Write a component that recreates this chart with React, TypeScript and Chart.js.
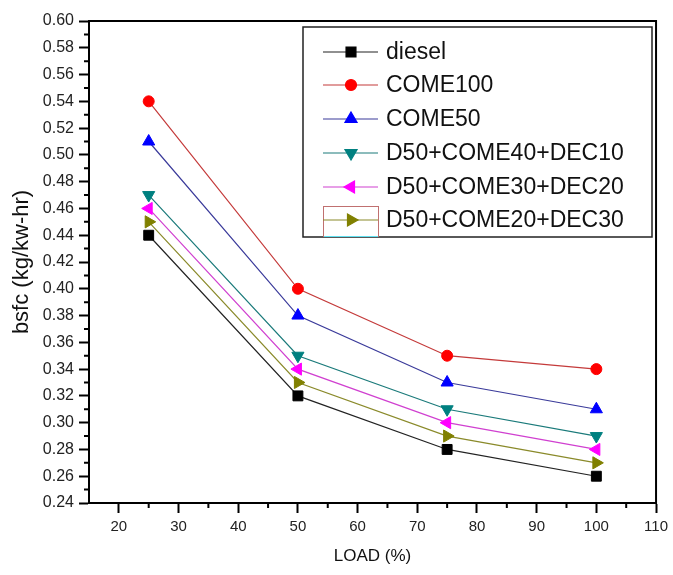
import React, { useEffect, useRef } from "react";
import { Chart, registerables } from "chart.js";
import { drawPoint } from "chart.js/helpers";

Chart.register(...registerables);

const loads = [25, 50, 75, 100];
const seriesNames = [
  "diesel",
  "COME100",
  "COME50",
  "D50+COME40+DEC10",
  "D50+COME30+DEC20",
  "D50+COME20+DEC30",
];
const diesel = [0.44, 0.32, 0.28, 0.26];
const come100 = [0.54, 0.4, 0.35, 0.34];
const come50 = [0.51, 0.38, 0.33, 0.31];
const blend10 = [0.47, 0.35, 0.31, 0.29];
const blend20 = [0.46, 0.34, 0.3, 0.28];
const blend30 = [0.45, 0.33, 0.29, 0.27];
const seriesValues = [diesel, come100, come50, blend10, blend20, blend30];

const colors = ["#000000", "#ff0000", "#0000ff", "#008080", "#ff00ff", "#808000"];
const lineColors = ["#222222", "#c43a3a", "#3a3a9a", "#1a7a7a", "#d040d0", "#8a8a2a"];
const pointStyles = ["rect", "circle", "triangle", "triangle", "triangle", "triangle"];
const rotations = [0, 0, 0, 180, 270, 90];
const radii = [7, 5.5, 7, 7, 7, 7];

const minorX = [25, 35, 45, 55, 65, 75, 85, 95, 105];
const minorY = [0.25, 0.27, 0.29, 0.31, 0.33, 0.35, 0.37, 0.39, 0.41, 0.43, 0.45, 0.47, 0.49, 0.51, 0.53, 0.55, 0.57, 0.59];

const framePlugin = {
  id: "frameAndLegend",
  afterDraw(chart: any) {
    const ctx = chart.ctx;
    const { left, right, top, bottom } = chart.chartArea;
    const xs = chart.scales.x;
    const ys = chart.scales.y;
    ctx.save();
    // minor ticks
    ctx.strokeStyle = "#000";
    ctx.lineWidth = 2;
    ctx.beginPath();
    minorX.forEach((v) => {
      const px = xs.getPixelForValue(v);
      ctx.moveTo(px, bottom);
      ctx.lineTo(px, bottom + 5);
    });
    minorY.forEach((v) => {
      const py = ys.getPixelForValue(v);
      ctx.moveTo(left, py);
      ctx.lineTo(left - 5, py);
    });
    ctx.stroke();
    // frame
    ctx.lineWidth = 2;
    ctx.strokeRect(left, top, right - left, bottom - top);

    // legend
    const bx = 303, by = 27, bw = 349, bh = 210;
    ctx.fillStyle = "#fff";
    ctx.fillRect(bx, by, bw, bh);
    ctx.lineWidth = 1.5;
    ctx.strokeStyle = "#222";
    ctx.strokeRect(bx, by, bw, bh);
    const rowY = [52, 85, 119, 153, 187, 220];
    chart.data.datasets.forEach((ds: any, i: number) => {
      const y = rowY[i];
      if (i === 5) {
        ctx.lineWidth = 1;
        ctx.strokeStyle = "#c07070";
        ctx.strokeRect(323.5, 206.5, 55, 30);
        ctx.strokeStyle = "#60e0f0";
        ctx.beginPath();
        ctx.moveTo(324, 236.5);
        ctx.lineTo(378, 236.5);
        ctx.stroke();
      }
      ctx.strokeStyle = ds.borderColor;
      ctx.lineWidth = 1.2;
      ctx.beginPath();
      ctx.moveTo(323, y);
      ctx.lineTo(378, y);
      ctx.stroke();
      ctx.fillStyle = ds.pointBackgroundColor;
      ctx.strokeStyle = ds.pointBackgroundColor;
      drawPoint(ctx, {
        pointStyle: ds.pointStyle,
        radius: ds.pointRadius,
        rotation: ds.rotation,
        borderWidth: 1,
      }, 351, y);
      ctx.fillStyle = "#111";
      ctx.font = "23px 'Liberation Sans', Arial, sans-serif";
      ctx.textAlign = "left";
      ctx.textBaseline = "middle";
      ctx.fillText(ds.label, 386, y + 1);
    });
    ctx.restore();
  },
};

export default function App() {
  const ref = useRef<HTMLCanvasElement>(null);
  useEffect(() => {
    if (!ref.current) return;
    const chart = new Chart(ref.current, {
      type: "line",
      data: {
        datasets: seriesNames.map((name, i) => ({
          label: name,
          data: loads.map((x, j) => ({ x, y: seriesValues[i][j] })),
          borderColor: lineColors[i],
          borderWidth: 1.2,
          backgroundColor: colors[i],
          pointBackgroundColor: colors[i],
          pointBorderColor: colors[i],
          pointBorderWidth: 1,
          pointStyle: pointStyles[i],
          rotation: rotations[i],
          pointRadius: radii[i],
          fill: false,
          tension: 0,
        })),
      },
      options: {
        responsive: false,
        animation: false,
        layout: { padding: { left: 0, top: 21, right: 13, bottom: 0 } },
        plugins: { legend: { display: false }, tooltip: { enabled: false } },
        scales: {
          x: {
            type: "linear",
            min: 15,
            max: 110,
            afterFit: (s: any) => { s.height = 72; },
            ticks: {
              stepSize: 10,
              includeBounds: false,
              padding: 5,
              color: "#222",
              font: { family: "'Liberation Sans', Arial, sans-serif", size: 15 },
              maxRotation: 0,
            },
            grid: {
              display: true,
              drawOnChartArea: false,
              drawTicks: true,
              tickLength: 10,
              tickWidth: 2,
              tickColor: "#000",
            },
            border: { display: true, color: "#000", width: 2 },
            title: {
              display: true,
              text: "LOAD (%)",
              color: "#111",
              font: { family: "'Liberation Sans', Arial, sans-serif", size: 17 },
              padding: { top: 0, bottom: 8 },
            },
          },
          y: {
            type: "linear",
            min: 0.24,
            max: 0.6,
            afterFit: (s: any) => { s.width = 89; },
            ticks: {
              stepSize: 0.02,
              padding: 5,
              color: "#222",
              font: { family: "'Liberation Sans', Arial, sans-serif", size: 16 },
              callback: (v: any) => Number(v).toFixed(2),
            },
            grid: {
              display: true,
              drawOnChartArea: false,
              drawTicks: true,
              tickLength: 10,
              tickWidth: 2,
              tickColor: "#000",
            },
            border: { display: true, color: "#000", width: 2 },
            title: {
              display: true,
              text: "bsfc (kg/kw-hr)",
              color: "#111",
              font: { family: "'Liberation Sans', Arial, sans-serif", size: 22 },
              padding: { top: 9, bottom: 0 },
            },
          },
        },
      },
      plugins: [framePlugin],
    });
    return () => chart.destroy();
  }, []);
  return (
    <div style={{ position: "fixed", left: 0, top: 0, width: 673, height: 575, background: "#fff" }}>
      <canvas ref={ref} width={673} height={575} style={{ display: "block" }} />
    </div>
  );
}
